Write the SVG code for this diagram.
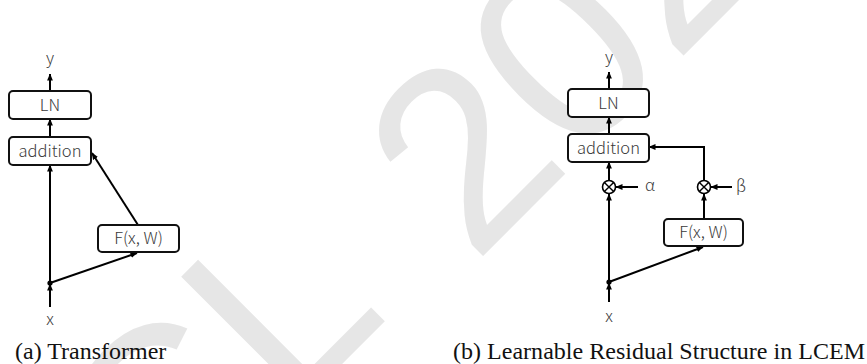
<svg xmlns="http://www.w3.org/2000/svg" width="867" height="364" viewBox="0 0 867 364">
<defs>
<marker id="ah" markerWidth="7" markerHeight="7" refX="6.5" refY="3.5" orient="auto" markerUnits="userSpaceOnUse">
<path d="M0,0.6 L7,3.5 L0,6.4 z" fill="#000"/>
</marker>
</defs>
<style>
.box{fill:#fff;stroke:#111;stroke-width:2}
.lbl{font-family:"Noto Sans CJK SC","Noto Sans",sans-serif;font-weight:300;font-size:16.5px;fill:#3a3a3a;text-anchor:middle}
.c{fill:none;stroke:#000;stroke-width:2}
.a{marker-end:url(#ah)}
.cap{font-family:"Liberation Serif","Times New Roman",serif;font-size:24px;fill:#111}
.wm{font-family:"Liberation Sans",Arial,sans-serif;font-size:255px;fill:#e6e6e6}
.mul{fill:#fff;stroke:#000;stroke-width:1.6}
</style>
<rect width="867" height="364" fill="#fff"/>
<g id="watermark">
<text class="wm" transform="translate(30,676) rotate(-45)">CCL</text>
<text class="wm" transform="translate(474,265) rotate(-45)">2024</text>
</g>
<g id="connectors">
<line class="c a" x1="50" y1="91" x2="50" y2="74"/>
<line class="c a" x1="50" y1="137" x2="50" y2="119"/>
<line class="c a" x1="50" y1="283" x2="50" y2="165"/>
<line class="c a" x1="138" y1="225" x2="92" y2="153"/>
<line class="c a" x1="50" y1="307" x2="50" y2="284"/>
<line class="c a" x1="50" y1="283" x2="137" y2="253"/>
<line class="c a" x1="609" y1="89" x2="609" y2="72"/>
<line class="c a" x1="609" y1="134" x2="609" y2="117"/>
<line class="c a" x1="609" y1="180" x2="609" y2="162"/>
<polyline class="c a" points="704,180 704,147 649,147"/>
<line class="c a" x1="609" y1="282" x2="609" y2="194"/>
<line class="c a" x1="638" y1="187" x2="616" y2="187"/>
<line class="c a" x1="732" y1="187" x2="711" y2="187"/>
<line class="c a" x1="704" y1="219" x2="704" y2="194"/>
<line class="c a" x1="609" y1="282" x2="703" y2="247"/>
<line class="c a" x1="609" y1="302" x2="609" y2="283"/>
</g>
<g id="a-y"><text class="lbl" x="50" y="64">y</text></g>
<g id="a-ln"><rect class="box" x="9" y="91" width="82" height="28" rx="4"/><text class="lbl" x="50" y="111">LN</text></g>
<g id="a-add"><rect class="box" x="9" y="137" width="82" height="28" rx="4"/><text class="lbl" x="50" y="157">addition</text></g>
<g id="a-f"><rect class="box" x="98" y="225" width="81" height="27" rx="4"/><text class="lbl" x="138.5" y="244">F(x, W)</text></g>
<g id="a-dot"><circle cx="50" cy="283" r="2.6" fill="#000"/></g>
<g id="a-x"><text class="lbl" x="50" y="325">x</text></g>
<g id="b-y"><text class="lbl" x="609" y="63">y</text></g>
<g id="b-ln"><rect class="box" x="568" y="89" width="81" height="28" rx="4"/><text class="lbl" x="608.5" y="109">LN</text></g>
<g id="b-add"><rect class="box" x="568" y="134" width="81" height="28" rx="4"/><text class="lbl" x="608.5" y="154">addition</text></g>
<g id="b-mula"><circle class="mul" cx="609" cy="187" r="6.5"/><path d="M604.4,182.4 L613.6,191.6 M613.6,182.4 L604.4,191.6" stroke="#000" stroke-width="1.4"/></g>
<g id="b-alpha"><text class="lbl" x="650" y="191">α</text></g>
<g id="b-mulb"><circle class="mul" cx="704" cy="187" r="6.5"/><path d="M699.4,182.4 L708.6,191.6 M708.6,182.4 L699.4,191.6" stroke="#000" stroke-width="1.4"/></g>
<g id="b-beta"><text class="lbl" x="741" y="192">β</text></g>
<g id="b-f"><rect class="box" x="664" y="219" width="79" height="27" rx="4"/><text class="lbl" x="703.5" y="238">F(x, W)</text></g>
<g id="b-dot"><circle cx="609" cy="282" r="2.6" fill="#000"/></g>
<g id="b-x"><text class="lbl" x="609" y="322">x</text></g>
<g id="captions">
<text class="cap" x="15" y="359">(a)  Transformer</text>
<text class="cap" x="453" y="359" textLength="412">(b)  Learnable Residual Structure in LCEM</text>
</g>
</svg>
